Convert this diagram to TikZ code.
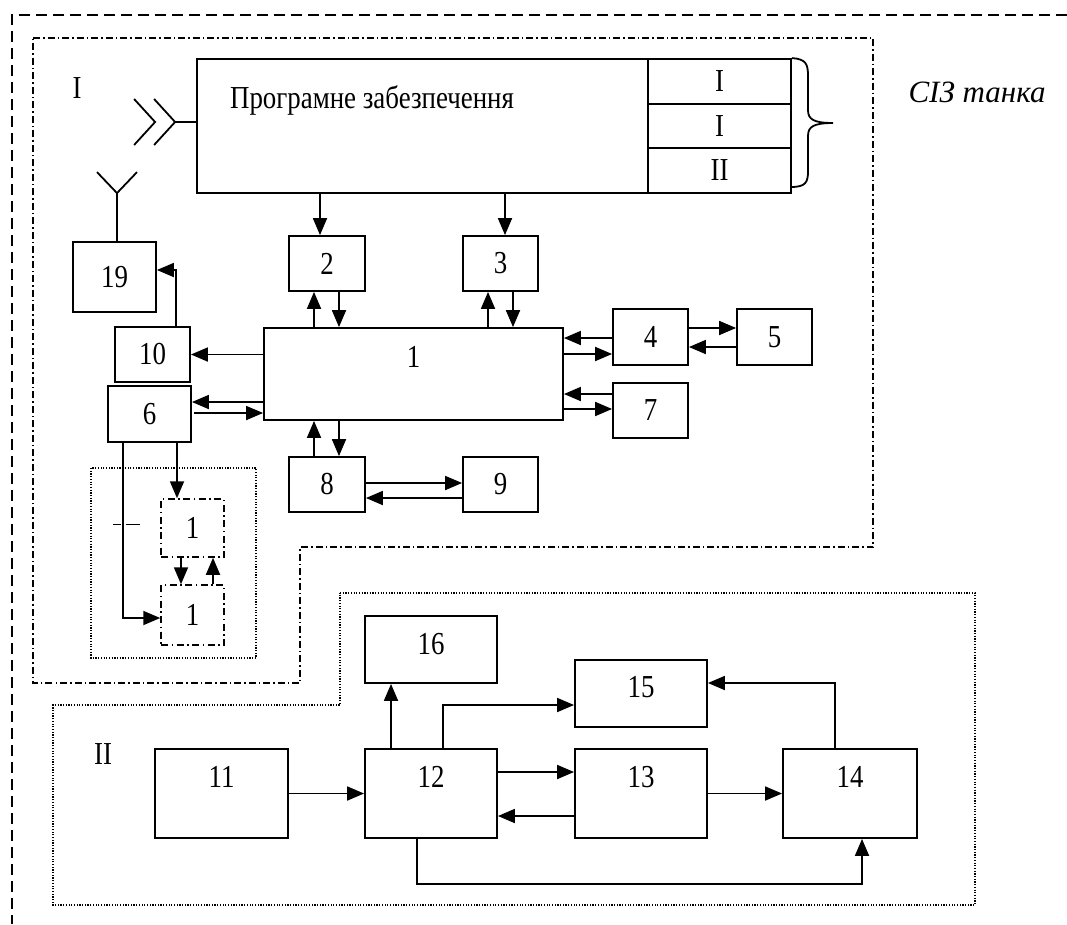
\documentclass[tikz,border=0pt]{standalone}
\usepackage{fontspec}
\setmainfont{Liberation Serif}[FakeStretch=0.84]
\newfontfamily\plainserif{Liberation Serif}
\usetikzlibrary{arrows.meta}

\begin{document}
\begin{tikzpicture}[x=1pt,y=-1pt,
    font=\fontsize{32}{36}\selectfont,
    bx/.style 2 args={draw, line width=1.8pt, minimum width=#1pt, minimum height=#2pt, inner sep=0pt},
    dbx/.style 2 args={draw, line width=1.5pt, dash pattern=on 7pt off 3.5pt on 1.5pt off 3.5pt, minimum width=#1pt, minimum height=#2pt, inner sep=0pt},
    toplab/.style 2 args={label={[anchor=center,yshift=-#2pt]north:#1}},
    arr/.style={line width=1.8pt, -{Triangle[length=17pt,width=14pt]}},
    ln/.style={line width=1.8pt},
    outer/.style={line width=1.5pt, dash pattern=on 11pt off 6pt},
    dashdot/.style={line width=1.3pt, dash pattern=on 7pt off 3pt on 1.5pt off 3pt},
    dotted line/.style={line width=1.2pt, dash pattern=on 1.2pt off 1.5pt}]

    \useasboundingbox (0,0) rectangle (1067,924);

    \draw[outer] (1067,15) -- (12,15) -- (12,924);
    \draw[dashdot] (33,38) -- (873,38) -- (873,547) -- (300,547) -- (300,683) -- (33,683) -- cycle;
    \draw[dotted line] (340,593) -- (975,593) -- (975,905) -- (53,905) -- (53,705) -- (340,705) -- cycle;
    \draw[dotted line] (91,468) rectangle (256,658);

    \node (labI) at (77,88) {I};
    \node (labII) at (103,754) {II};
    \node[font=\fontsize{31}{36}\plainserif\itshape] (siz) at (977,92) {СІЗ танка};

    \node[bx={451}{134}] (prog) at (422.5,126) {};
    \node (progtxt) at (372,100) {Програмне забезпечення};
    \node[bx={143}{45}] (s1) at (719.5,81.5) {I};
    \node[bx={143}{44}] (s2) at (719.5,126) {I};
    \node[bx={143}{45}] (s3) at (719.5,170.5) {II};
    \draw[ln] (s1.north east) .. controls (806,59) and (808,64) .. (808,76) -- (808,110)
        .. controls (808,119) and (813,123) .. (833,123)
        .. controls (813,123) and (808,127) .. (808,136) -- (808,171)
        .. controls (808,182) and (806,187) .. (791,187);

    \node[bx={83}{70}] (b19) at (114.5,277) {19};
    \node[bx={76}{55}] (b2) at (327,263.5) {2};
    \node[bx={75}{55}] (b3) at (500.5,263.5) {3};
    \node[bx={299}{92}, toplab={1}{30}] (b1) at (413.5,374) {};
    \node[bx={75}{56}] (b4) at (650.5,337) {4};
    \node[bx={75}{56}] (b5) at (774.5,337) {5};
    \node[bx={75}{55}] (b7) at (650.5,410.5) {7};
    \node[bx={75}{55}] (b10) at (152.5,354.5) {10};
    \node[bx={83}{56}] (b6) at (149.5,414) {6};
    \node[bx={76}{55}] (b8) at (327,484.5) {8};
    \node[bx={75}{55}] (b9) at (500.5,484.5) {9};
    \node[dbx={63}{58}] (d1a) at (192.5,528) {1};
    \node[dbx={63}{60}] (d1b) at (192.5,615) {1};

    \node[bx={133}{89}, toplab={11}{29}] (b11) at (221.5,793.5) {};
    \node[bx={132}{89}, toplab={12}{29}] (b12) at (431,793.5) {};
    \node[bx={132}{89}, toplab={13}{29}] (b13) at (641,793.5) {};
    \node[bx={134}{89}, toplab={14}{29}] (b14) at (850,793.5) {};
    \node[bx={132}{67}, toplab={15}{28}] (b15) at (641,693.5) {};
    \node[bx={132}{67}, toplab={16}{29}] (b16) at (431,649.5) {};

    \draw[ln] ([yshift=4pt]prog.west) -- ++(-21,0) coordinate (chev);
    \draw[ln] ([xshift=-21pt,yshift=23pt]chev) -- (chev) -- ([xshift=-21pt,yshift=-23pt]chev);
    \draw[ln] ([xshift=-41pt,yshift=23pt]chev) -- ([xshift=-20pt]chev) -- ([xshift=-41pt,yshift=-23pt]chev);
    \draw[ln] ([xshift=2.5pt]b19.north) -- ++(0,-48) coordinate (ant);
    \draw[ln] ([xshift=-20pt,yshift=21pt]ant) -- (ant) -- ([xshift=20pt,yshift=21pt]ant);

    \draw[arr] ([xshift=-7pt]b2.north |- prog.south) -- ([xshift=-7pt]b2.north);
    \draw[arr] ([xshift=4.5pt]b3.north |- prog.south) -- ([xshift=4.5pt]b3.north);
    \draw[arr] ([xshift=-13pt]b2.south |- b1.north) -- ([xshift=-13pt]b2.south);
    \draw[arr] ([xshift=12pt]b2.south) -- ([xshift=12pt]b2.south |- b1.north);
    \draw[arr] ([xshift=-12.5pt]b3.south |- b1.north) -- ([xshift=-12.5pt]b3.south);
    \draw[arr] ([xshift=12.5pt]b3.south) -- ([xshift=12.5pt]b3.south |- b1.north);
    \draw[arr] ([xshift=-13pt]b8.north) -- ([xshift=-13pt]b8.north |- b1.south);
    \draw[arr] ([xshift=12pt]b8.north |- b1.south) -- ([xshift=12pt]b8.north);
    \draw[arr] ([yshift=1.5pt]b8.east) -- ([yshift=1.5pt]b8.east -| b9.west);
    \draw[arr] ([yshift=-13.5pt]b9.west) -- ([yshift=-13.5pt]b9.west -| b8.east);

    \draw[arr] ([yshift=-1pt]b4.west) -- ([yshift=-1pt]b4.west -| b1.east);
    \draw[arr] ([yshift=-17pt]b4.west -| b1.east) -- ([yshift=-17pt]b4.west);
    \draw[arr] ([yshift=9pt]b4.east) -- ([yshift=9pt]b4.east -| b5.west);
    \draw[arr] ([yshift=-10pt]b5.west) -- ([yshift=-10pt]b5.west -| b4.east);
    \draw[arr] ([yshift=16.5pt]b7.west) -- ([yshift=16.5pt]b7.west -| b1.east);
    \draw[arr] ([yshift=1.5pt]b7.west -| b1.east) -- ([yshift=1.5pt]b7.west);

    \draw[arr] (b10.east -| b1.west) -- (b10.east);
    \draw[arr] ([yshift=12pt]b6.east -| b1.west) -- ([yshift=12pt]b6.east);
    \draw[arr] ([xshift=2pt,yshift=1pt]b6.east) -- ([yshift=1pt]b6.east -| b1.west);
    \draw[arr] ([xshift=23.5pt]b10.north) |- ([yshift=7pt]b19.east);

    \draw[arr] ([xshift=27.5pt]b6.south) -- ([xshift=27.5pt]b6.south |- d1a.north);
    \draw[arr] ([xshift=-26.5pt]b6.south) |- ([yshift=-3pt]d1b.west);
    \draw[line width=1pt] (113,524) -- (121,524) (126,524) -- (140,524);
    \draw[arr] ([xshift=-11.5pt]d1a.south) -- ([xshift=-11.5pt]d1b.north);
    \draw[arr] ([xshift=20.5pt]d1b.north) -- ([xshift=20.5pt]d1a.south);

    \draw[arr] (b11.east) -- (b12.west);
    \draw[arr] ([yshift=21.5pt]b12.east) -- ([yshift=21.5pt]b13.west);
    \draw[arr] ([yshift=-22.5pt]b13.west) -- ([yshift=-22.5pt]b12.east);
    \draw[arr] (b13.east) -- (b14.west);
    \draw[arr] ([xshift=-40pt]b12.north) -- ([xshift=-40pt]b12.north |- b16.south);
    \draw[arr] ([xshift=12pt]b12.north) |- ([yshift=-11.5pt]b15.west);
    \draw[arr] ([xshift=-15pt]b14.north) |- ([yshift=10.5pt]b15.east);
    \draw[arr] ([xshift=-14pt]b12.south) -- ++(0,45) -| ([xshift=12pt]b14.south);

\end{tikzpicture}
\end{document}
